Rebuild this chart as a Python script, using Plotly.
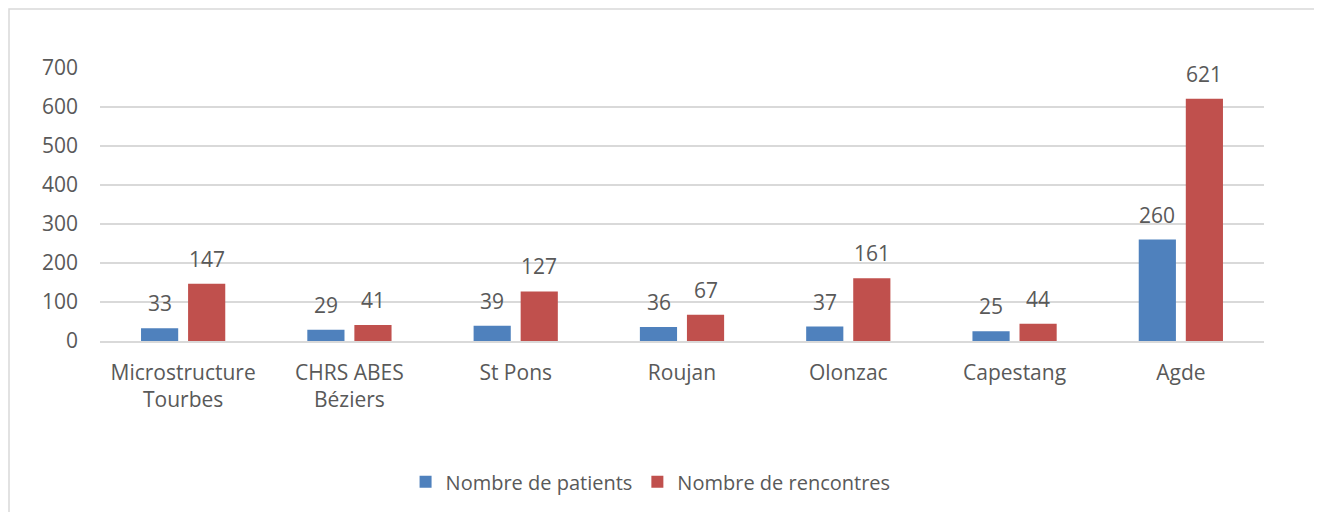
import plotly.graph_objects as go

categories = ['Microstructure<br>Tourbes', 'CHRS ABES<br>Béziers', 'St Pons', 'Roujan',
              'Olonzac', 'Capestang', 'Agde']
patients = [33, 29, 39, 36, 37, 25, 260]
rencontres = [147, 41, 127, 67, 161, 44, 621]

bleu = '#4F81BD'
rouge = '#C0504D'
gris_texte = '#595959'
police = 'Open Sans'

fig = go.Figure()
fig.add_trace(go.Bar(x=categories, y=patients, name='Nombre de patients',
                     marker=dict(color=bleu, line=dict(width=0))))
fig.add_trace(go.Bar(x=categories, y=rencontres, name='Nombre de rencontres',
                     marker=dict(color=rouge, line=dict(width=0))))

# etiquettes de donnees au-dessus des barres
for serie, decal in [(patients, -23.5), (rencontres, 23.5)]:
    for cat, val in zip(categories, serie):
        fig.add_annotation(x=cat, y=val, text=str(val), showarrow=False,
                           xshift=decal, yshift=9, yanchor='bottom',
                           font=dict(family=police, size=21, color=gris_texte))

# cadre du graphique (haut et gauche)
fig.add_shape(type='rect', xref='paper', yref='paper',
              xsizemode='pixel', ysizemode='pixel', xanchor=0, yanchor=1,
              x0=-91, x1=1300, y0=59, y1=-520,
              line=dict(color='#D9D9D9', width=1.5), layer='below')

fig.update_layout(
    width=1322, height=512,
    margin=dict(l=92, r=66, t=60, b=179),
    paper_bgcolor='white', plot_bgcolor='white',
    barmode='group', bargap=0.434, bargroupgap=0.21,
    font=dict(family=police, size=21, color=gris_texte),
    showlegend=True,
    legend=dict(orientation='h', x=0.473, xanchor='center', y=-0.516, yanchor='middle',
                font=dict(family=police, size=20, color=gris_texte),
                itemwidth=30, traceorder='normal'),
    xaxis=dict(showgrid=False, showline=True, linecolor='#D9D9D9', linewidth=1.5,
               ticks='', ticklabelstandoff=12, tickfont=dict(size=21)),
    yaxis=dict(range=[0, 700], dtick=100, showgrid=True, gridcolor='#D9D9D9',
               gridwidth=1.5, zeroline=False, showline=False, ticks='',
               ticklabelstandoff=21, tickfont=dict(size=21)),
)

fig.write_html('out.html')
